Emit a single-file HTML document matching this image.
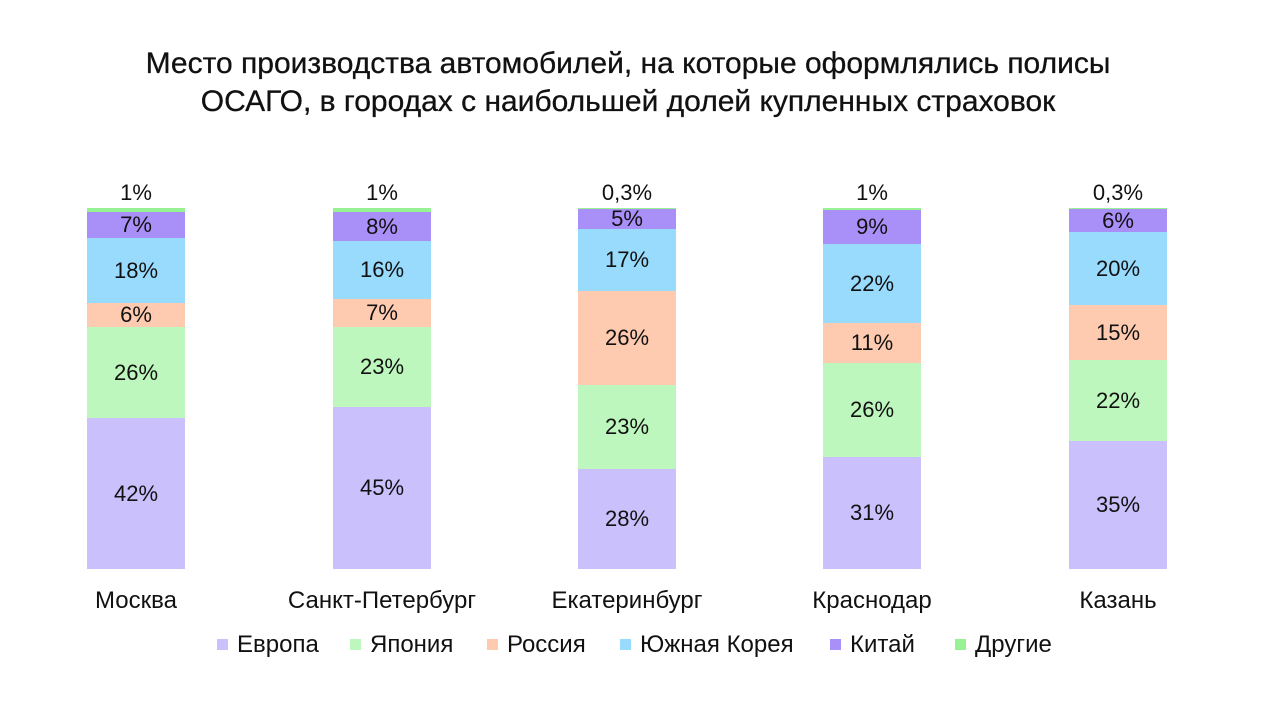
<!DOCTYPE html>
<html><head><meta charset="utf-8"><style>
body{margin:0;width:1280px;height:720px;background:#fff;font-family:"Liberation Sans",sans-serif;color:#111;position:relative;overflow:hidden}
.t{position:absolute;left:-12px;width:1280px;text-align:center;font-size:30px;line-height:38px;top:45px;-webkit-text-stroke:0.3px #111}
.s{position:absolute;width:98px;display:flex;align-items:center;justify-content:center;font-size:22px}
.l{position:absolute;font-size:22px;transform:translateX(-50%);white-space:nowrap}
.c{position:absolute;top:587px;font-size:24px;transform:translateX(-50%);white-space:nowrap}
.g{position:absolute;top:631px;font-size:24px;white-space:nowrap}
.g i{display:inline-block;width:11px;height:11px;margin-right:9px;vertical-align:2px}
</style></head><body>
<div class="t">Место производства автомобилей, на которые оформлялись полисы<br>ОСАГО, в городах с наибольшей долей купленных страховок</div>
<div id="ch"></div>
<script>
var cols=["#97f293","#a98ff8","#98dbfd","#fecbb0","#bdf7bd","#c9c0fc"];
var data=[[87,"Москва",[208,212,238,303,327,418,569],["1%","7%","18%","6%","26%","42%"]],
[333,"Санкт-Петербург",[208,212,241,299,327,407,569],["1%","8%","16%","7%","23%","45%"]],
[578,"Екатеринбург",[208,209,229,291,385,469,569],["0,3%","5%","17%","26%","23%","28%"]],
[823,"Краснодар",[208,210,244,323,363,457,569],["1%","9%","22%","11%","26%","31%"]],
[1069,"Казань",[208,209,232,305,360,441,569],["0,3%","6%","20%","15%","22%","35%"]]];
var h="";
data.forEach(function(d){var x=d[0],b=d[2];
for(var i=0;i<6;i++){var txt=i==0?"":d[3][i];
h+='<div class="s" style="left:'+x+'px;top:'+b[i]+'px;height:'+(b[i+1]-b[i])+'px;background:'+cols[i]+'">'+txt+'</div>';}
h+='<div class="l" style="left:'+(x+49)+'px;top:180px">'+d[3][0]+'</div>';
h+='<div class="c" style="left:'+(x+49)+'px">'+d[1]+'</div>';});
var lg=[[217,"#c9c0fc","Европа"],[350,"#bdf7bd","Япония"],[487,"#fecbb0","Россия"],[620,"#98dbfd","Южная Корея"],[830,"#a98ff8","Китай"],[955,"#97f293","Другие"]];
lg.forEach(function(g){h+='<div class="g" style="left:'+g[0]+'px"><i style="background:'+g[1]+'"></i>'+g[2]+'</div>';});
document.getElementById("ch").innerHTML=h;
</script>
</body></html>
